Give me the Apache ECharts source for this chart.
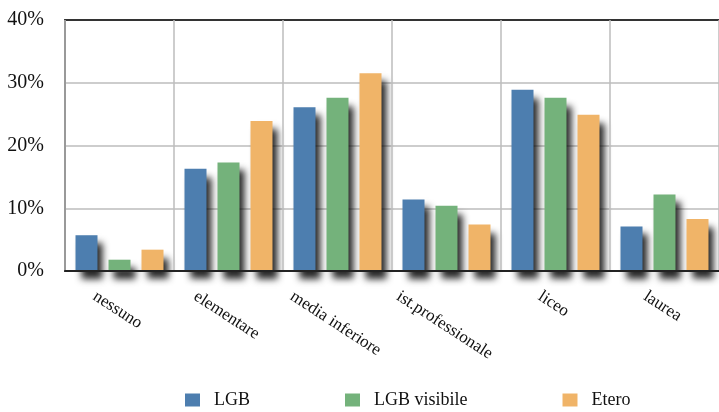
<!DOCTYPE html>
<html>
<head>
<meta charset="utf-8">
<script src="https://cdn.jsdelivr.net/npm/echarts@6/dist/echarts.min.js"></script>
<style>
  html, body { margin: 0; padding: 0; background: #fff; }
  #chart { width: 719px; height: 412px; }
</style>
</head>
<body>
<div id="chart"></div>
<script>
// Titolo di studio: percentuali per gruppo
const categories = ['nessuno', 'elementare', 'media inferiore', 'ist.professionale', 'liceo', 'laurea'];
const seriesNames = ['LGB', 'LGB visibile', 'Etero'];
const lgb = [5.7, 16.3, 26.1, 11.4, 28.9, 7.1];
const lgbVisibile = [1.8, 17.3, 27.6, 10.4, 27.6, 12.2];
const etero = [3.4, 23.9, 31.5, 7.4, 24.9, 8.3];
const yTicks = [0, 10, 20, 30, 40];

const colors = ['#4d7eaf', '#74b27b', '#f0b468'];
const serif = '"Liberation Serif", "DejaVu Serif", serif';
const labelFontSize = 17;
const labelAngleDeg = 33;

const chart = echarts.init(document.getElementById('chart'), null, { renderer: 'canvas' });

// Drop shadow under every bar, falling right and below the baseline
const barStyle = (c) => ({
  color: c,
  shadowColor: 'rgba(0,0,0,0.85)',
  shadowBlur: 7,
  shadowOffsetX: 5,
  shadowOffsetY: 8
});

const barSeries = (name, data, c) => ({
  name, type: 'bar', data, barWidth: 22, barGap: '50%', clip: false, z: 1,
  itemStyle: barStyle(c),
  emphasis: { disabled: true }
});

const option = {
  animation: false,
  backgroundColor: '#ffffff',
  grid: { left: 65, top: 20, width: 657, height: 251, containLabel: false },
  legend: {
    left: 180,
    top: 386,
    itemWidth: 15,
    itemHeight: 13,
    itemGap: 95,
    icon: 'rect',
    itemStyle: { shadowBlur: 0, shadowOffsetX: 0, shadowOffsetY: 0 },
    textStyle: { fontFamily: serif, fontSize: 18, color: '#111', padding: [0, 0, 0, 9] },
    data: seriesNames
  },
  xAxis: [{
    type: 'category',
    data: categories,
    boundaryGap: true,
    axisLine: { show: true, lineStyle: { color: '#222', width: 2 } },
    axisTick: { show: false, interval: 0 },
    axisLabel: { show: false, interval: 0 },
    splitLine: { show: true, interval: 0, lineStyle: { color: '#bdbdbd', width: 1.5 } },
    z: 5
  }, {
    type: 'category',
    data: categories,
    position: 'top',
    axisLine: { show: true, lineStyle: { color: '#333', width: 2 } },
    axisTick: { show: false },
    axisLabel: { show: false },
    splitLine: { show: false }
  }],
  yAxis: {
    type: 'value',
    min: yTicks[0],
    max: yTicks[yTicks.length - 1],
    interval: 10,
    axisLine: { show: true, lineStyle: { color: '#333', width: 2 } },
    axisTick: { show: false },
    axisLabel: {
      formatter: '{value}%',
      fontFamily: serif,
      fontSize: 20,
      color: '#111',
      margin: 21
    },
    splitLine: { show: true, lineStyle: { color: '#bdbdbd', width: 1.5 } }
  },
  series: [
    barSeries(seriesNames[0], lgb, colors[0]),
    barSeries(seriesNames[1], lgbVisibile, colors[1]),
    barSeries(seriesNames[2], etero, colors[2])
  ]
};

chart.setOption(option);

// Rotated category labels: bounding box hangs below the axis, centred under each category
const ctx = document.createElement('canvas').getContext('2d');
ctx.font = labelFontSize + 'px ' + serif;
const theta = labelAngleDeg * Math.PI / 180;
const labelTop = 289;
const textH = labelFontSize * 0.85;
const labels = categories.map((name) => {
  const cx = chart.convertToPixel({ xAxisIndex: 0 }, name) - 2;
  const w = ctx.measureText(name).width;
  const boxH = w * Math.sin(theta) + textH * Math.cos(theta);
  return {
    type: 'text',
    x: cx,
    y: labelTop + boxH / 2,
    rotation: -theta,
    silent: true,
    style: {
      text: name,
      font: labelFontSize + 'px ' + serif,
      fill: '#111',
      align: 'center',
      verticalAlign: 'middle'
    }
  };
});
chart.setOption({ graphic: labels });
</script>
</body>
</html>
